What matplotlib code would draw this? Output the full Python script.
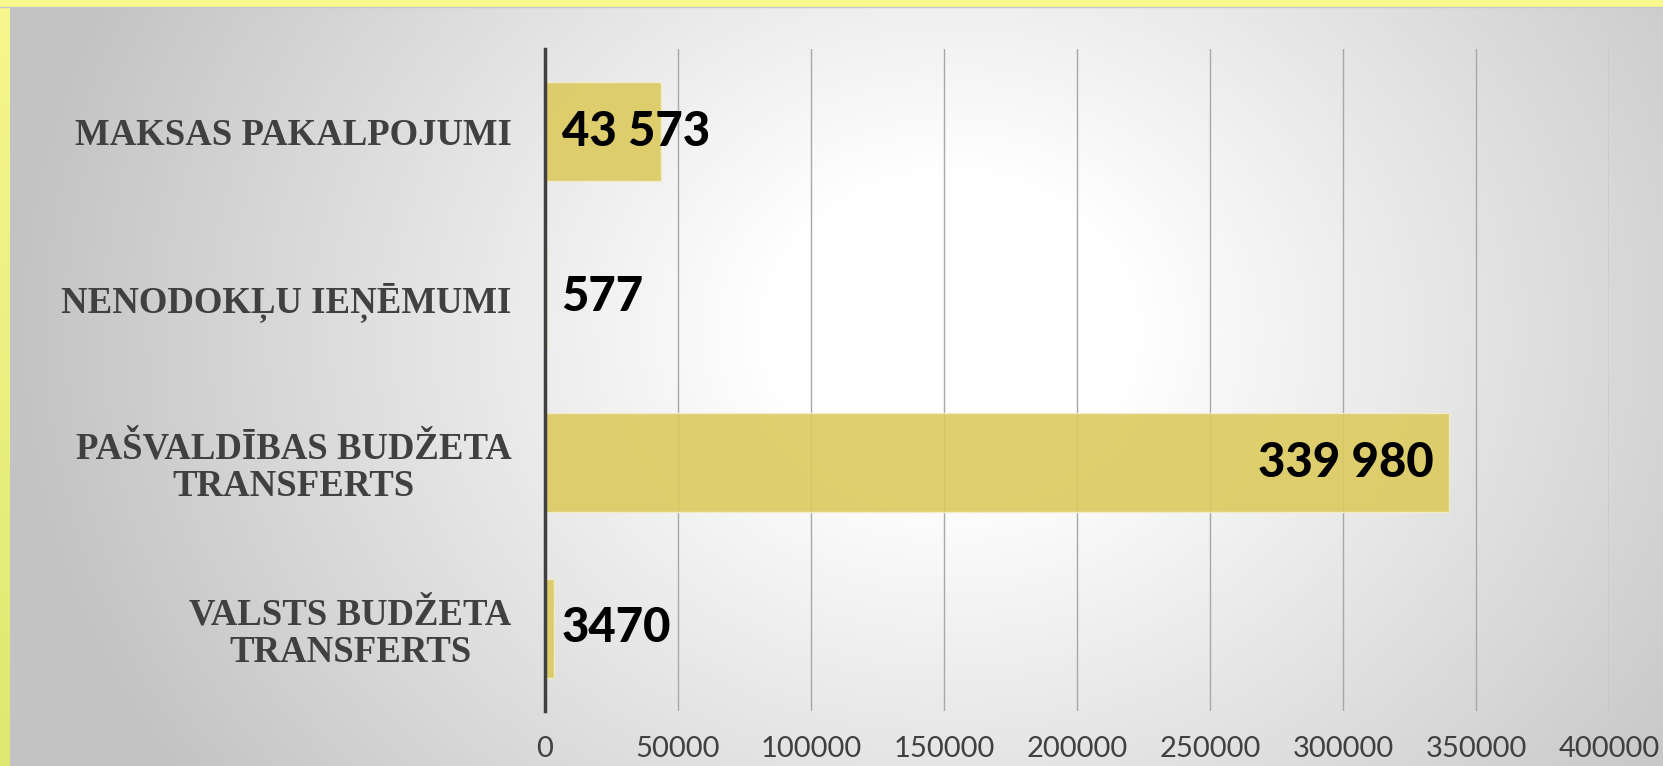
#!/usr/bin/env python3
"""Ieņēmumu struktūra: horizontālās joslas ar vērtībām uz slaida fona."""

import numpy as np
import matplotlib
matplotlib.use("Agg")
import matplotlib.pyplot as plt
from matplotlib.colors import LinearSegmentedColormap

categories = [
    "MAKSAS PAKALPOJUMI",
    "NENODOKĻU IEŅĒMUMI",
    "PAŠVALDĪBAS BUDŽETA\nTRANSFERTS",
    "VALSTS BUDŽETA\nTRANSFERTS",
]
values = [43573, 577, 339980, 3470]
value_labels = ["43 573", "577", "339 980", "3470"]
xticks = [0, 50000, 100000, 150000, 200000, 250000, 300000, 350000, 400000]

W, H = 1663, 766
fig = plt.figure(figsize=(W / 100, H / 100), dpi=100)

# slaida fons: radiāls gradients no balta uz pelēku
bg = fig.add_axes([0, 0, 1, 1], zorder=-10)
yy, xx = np.mgrid[0:H, 0:W]
r = np.hypot((xx - 950) / 1.0, (yy - 330) / 0.85)
t = np.clip((r - 180) / 760, 0, 1)
grey = LinearSegmentedColormap.from_list("g", ["#ffffff", "#c3c3c3"])
bg.imshow(t, cmap=grey, vmin=0, vmax=1, aspect="auto", extent=(0, W, H, 0))
# dzeltenā mala augšā un kreisajā pusē
left = np.linspace(0, 1, H).reshape(-1, 1)
yel = LinearSegmentedColormap.from_list("y", ["#f6f78c", "#dfe872"])
bg.imshow(left, cmap=yel, aspect="auto", extent=(0, 10, H, 0))
bg.axhspan(0, 6, color="#f6f78c")
bg.axhline(6.5, color="#c8c8c8", lw=1)
bg.set_xlim(0, W)
bg.set_ylim(H, 0)
bg.axis("off")

ax = fig.add_axes([545 / W, 1 - 711 / H, (1609 - 545) / W, (711 - 49) / H])
ax.patch.set_alpha(0)
ypos = np.arange(len(categories))
ax.barh(ypos, values, height=0.6, color="#dcca5e", alpha=0.9,
        edgecolor="#f3eecb", linewidth=1, zorder=2)

for y, v, lab in zip(ypos, values, value_labels):
    if v > 200000:
        ax.annotate(lab, (v, y), xytext=(-11, 0), textcoords="offset points",
                    ha="right", va="center", fontsize=34, fontweight="black",
                    family="Lato", color="black", zorder=4)
    else:
        ax.annotate(lab, (0, y), xytext=(12, 0), textcoords="offset points",
                    ha="left", va="center", fontsize=34, fontweight="black",
                    family="Lato", color="black", zorder=4)

ax.set_xlim(0, 400000)
ax.set_ylim(len(categories) - 0.5, -0.5)
ax.set_xticks(xticks)
ax.set_xticklabels([str(x) for x in xticks], family="Lato", fontsize=21,
                   color="#404040")
ax.set_yticks(ypos)
ax.set_yticklabels(categories, family="Liberation Serif", fontweight="bold",
                   fontsize=26.5, color="#404040", multialignment="center",
                   linespacing=1.1)
ax.tick_params(axis="x", length=0, pad=18)
ax.tick_params(axis="y", length=0, pad=24)
ax.grid(axis="x", color="#a8a8a8", linewidth=1.0, zorder=1)
ax.set_axisbelow(True)
for side in ("top", "right", "bottom"):
    ax.spines[side].set_visible(False)
ax.spines["left"].set_color("#404040")
ax.spines["left"].set_linewidth(2.5)
ax.spines["left"].set_zorder(5)

fig.savefig("out.png", dpi=100)
